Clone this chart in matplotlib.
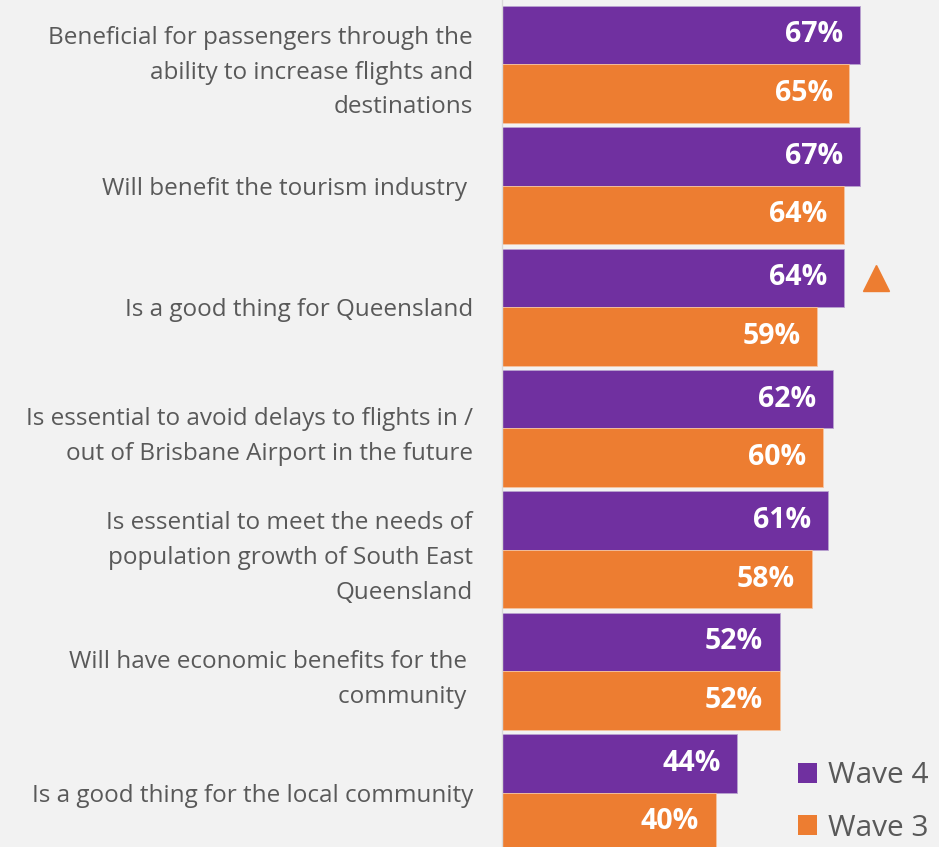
import matplotlib.pyplot as plt
import numpy as np

# data
categories = [
    "Beneficial for passengers through the\nability to increase flights and\ndestinations",
    "Will benefit the tourism industry ",
    "Is a good thing for Queensland",
    "Is essential to avoid delays to flights in /\nout of Brisbane Airport in the future",
    "Is essential to meet the needs of\npopulation growth of South East\nQueensland",
    "Will have economic benefits for the \ncommunity ",
    "Is a good thing for the local community",
]
wave4 = [67, 67, 64, 62, 61, 52, 44]
wave3 = [65, 64, 59, 60, 58, 52, 40]
sig_up = [False, False, True, False, False, False, False]

PURPLE = '#7030a0'
ORANGE = '#ed7d31'
BG = '#f2f2f2'
TXT = '#595959'

plt.rcParams['font.family'] = ['Open Sans', 'DejaVu Sans']

fig = plt.figure(figsize=(9.39, 8.47), dpi=100, facecolor=BG)
ax = fig.add_axes([502 / 939, 0, 1 - 502 / 939, 1], facecolor=BG)

y = np.arange(len(categories))
h = 0.482
ax.barh(y - h / 2, wave4, height=h, color=PURPLE, edgecolor='#b9a3d0', linewidth=0.6, label='Wave 4')
ax.barh(y + h / 2, wave3, height=h, color=ORANGE, edgecolor='#f5c3a0', linewidth=0.6, label='Wave 3')

# value labels inside the bar ends
for i in range(len(categories)):
    for val, yy in ((wave4[i], y[i] - h / 2), (wave3[i], y[i] + h / 2)):
        ax.annotate(f"{val}%", (val, yy), xytext=(-12, 0), textcoords='offset points',
                    ha='right', va='center', color='white', fontsize=20.5, fontweight='bold')
    if sig_up[i]:
        ax.plot(wave4[i] + 6, y[i] - h / 2, marker='^', ms=19, color=ORANGE, clip_on=False)

ax.set_xlim(0, 437 / 5.343)
ax.set_ylim(-0.529 + 847 / 121.4, -0.529)

ax.set_yticks(y)
ax.set_yticklabels(categories, fontsize=17.5, color=TXT, linespacing=1.6)
ax.tick_params(axis='y', length=0, pad=21)
ax.set_xticks([])
for s in ['top', 'right', 'bottom']:
    ax.spines[s].set_visible(False)
ax.spines['left'].set_color('#d9d9d9')
ax.spines['left'].set_linewidth(1)

leg = fig.legend(loc='center left', bbox_to_anchor=(798 / 939, 1 - 802 / 847), frameon=False,
                 fontsize=21.5, handlelength=0.65, handleheight=0.65, handletextpad=0.35,
                 labelspacing=0.8, borderpad=0, borderaxespad=0)
for t in leg.get_texts():
    t.set_color(TXT)
for p in leg.get_patches():
    p.set_edgecolor('none')

plt.savefig('out.png', dpi=100, facecolor=BG)
